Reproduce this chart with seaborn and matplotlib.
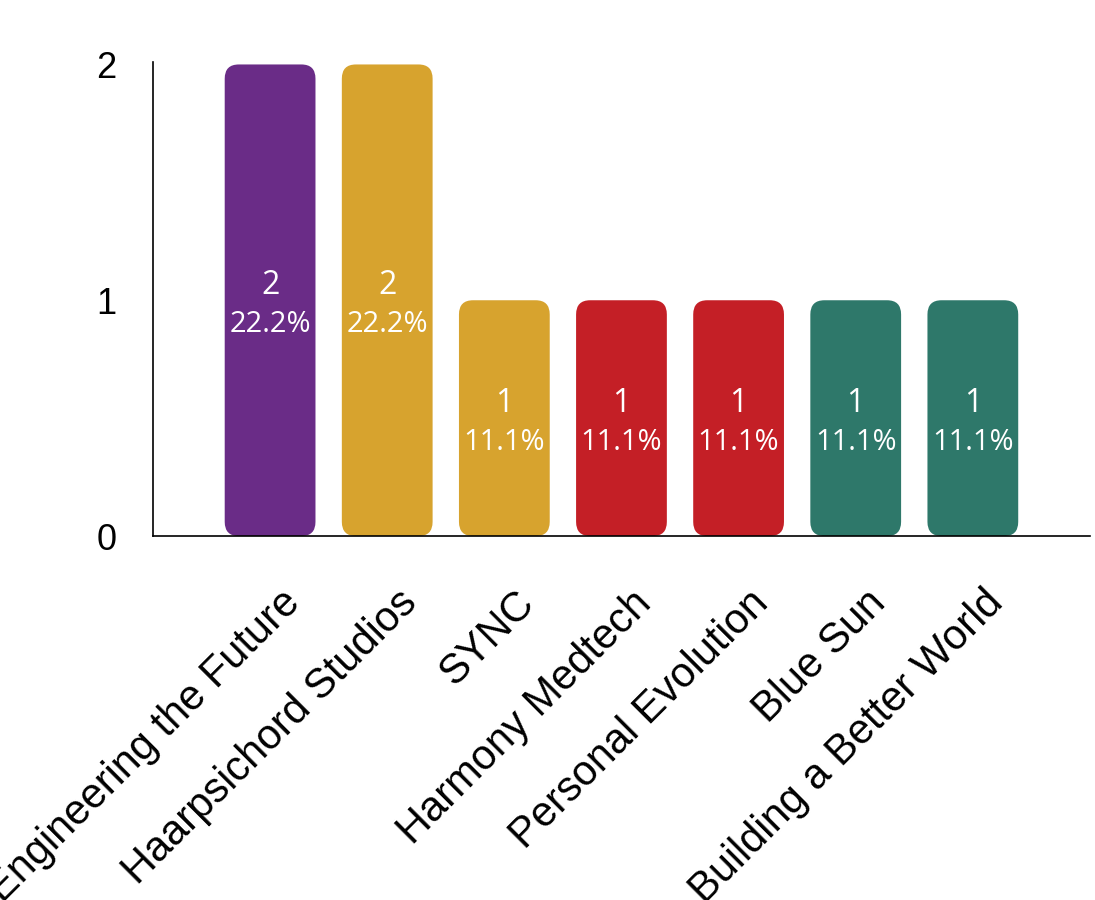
import pandas as pd
import matplotlib.pyplot as plt
import matplotlib.transforms as mtransforms
import seaborn as sns
from matplotlib.patches import FancyBboxPatch

# Chart data
categories = ["Engineering the Future", "Haarpsichord Studios", "SYNC", "Harmony Medtech",
              "Personal Evolution", "Blue Sun", "Building a Better World"]
counts = [2, 2, 1, 1, 1, 1, 1]
bar_colors = ["#6A2C87", "#D7A32E", "#D7A32E", "#C41F26", "#C41F26", "#2E786A", "#2E786A"]
y_ticks = [0, 1, 2]

df = pd.DataFrame({"Category": categories, "Count": counts})
total = df["Count"].sum()
df["Pct"] = df["Count"] / total * 100

sns.set_style("white")
plt.rcParams['font.family'] = ['Liberation Sans', 'DejaVu Sans']

fig, ax = plt.subplots(figsize=(10.95, 9), dpi=100)
fig.subplots_adjust(left=0.1397, right=0.9954, top=0.931, bottom=0.4044)

sns.barplot(data=df, x="Category", y="Count", hue="Category",
            palette=bar_colors, width=0.775, saturation=1, legend=False, ax=ax)

# swap plain bars for rounded ones
for bar in list(ax.patches):
    x, y = bar.get_x(), bar.get_y()
    w, h = bar.get_width(), bar.get_height()
    color = bar.get_facecolor()
    bar.remove()
    rounded = FancyBboxPatch((x, y), w, h,
                             boxstyle="round,pad=0,rounding_size=0.12",
                             mutation_aspect=0.5, facecolor=color,
                             edgecolor="none", linewidth=0)
    ax.add_patch(rounded)

# labels inside bars
for i, row in df.iterrows():
    mid = row["Count"] / 2
    ax.annotate(f"{row['Count']}", (i, mid), xytext=(0, 10.5), textcoords="offset points",
                ha="center", va="center", color="white", fontsize=23, family="Open Sans")
    ax.annotate(f"{row['Pct']:.1f}%", (i, mid), xytext=(0, -17.5), textcoords="offset points",
                ha="center", va="center", color="white", fontsize=21, family="Open Sans")

ax.set_xlim(-1, 7)
ax.set_ylim(0, 2.01)
ax.set_yticks(y_ticks)
ax.set_yticklabels([str(t) for t in y_ticks], fontsize=26, color="black")
ax.tick_params(axis="y", length=0, pad=26)
ax.tick_params(axis="x", length=0, pad=28)
ax.set_xticks(range(len(categories)))
ax.set_xticklabels(categories, rotation=45, ha="right", rotation_mode="anchor",
                   fontsize=30, color="black")
shift = mtransforms.ScaledTranslation(0.10, -0.08, fig.dpi_scale_trans)
for lbl in ax.get_xticklabels():
    lbl.set_transform(lbl.get_transform() + shift)
ax.set_xlabel("")
ax.set_ylabel("")

for side in ["top", "right"]:
    ax.spines[side].set_visible(False)
for side in ["left", "bottom"]:
    ax.spines[side].set_color("black")
    ax.spines[side].set_linewidth(1.2)

plt.savefig("out.png", dpi=100)
